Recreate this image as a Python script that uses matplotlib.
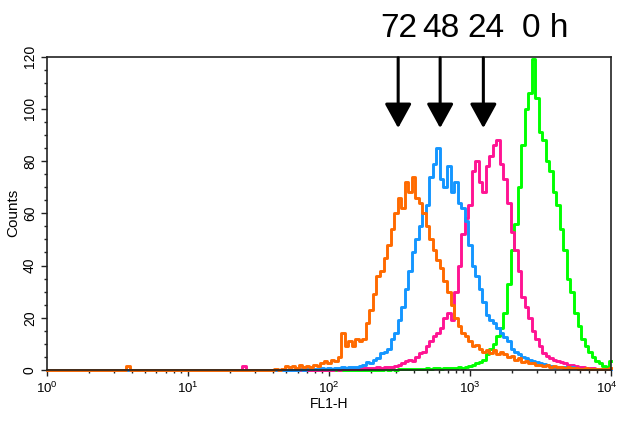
import numpy as np
import matplotlib.pyplot as plt
from matplotlib.transforms import blended_transform_factory, ScaledTranslation

plt.rcParams['font.family'] = ['Liberation Sans', 'DejaVu Sans']
plt.rcParams['mathtext.fontset'] = 'custom'
plt.rcParams['mathtext.rm'] = 'Liberation Sans'

# channel positions in decades, 0.025 decade bins from 10^0 to 10^4
decades = np.linspace(0, 4, 161)
fl1 = 10 ** decades

# counts below 10^1.5 (mostly empty, a couple of stray events)
orange_low = [0] * 23 + [1.5] + [0] * 36
pink_low = [0] * 56 + [1.5] + [0] * 3
blue_low = [0] * 60
green_low = [0] * 60

# counts from 10^1.5 to 10^4
orange_main = [0, 0, 0, 0, 0, 0.3, 0, 0.5, 1.5, 1,
               1.5, 0.8, 1.8, 1, 1.5, 1.2, 2, 1.5, 2.5, 3.5,
               2.5, 4, 3.5, 5, 14, 9, 11, 9, 12, 11,
               12, 18, 23, 29, 36, 38, 43, 48, 54, 60,
               66, 62, 72, 68, 74, 66, 64, 60, 55, 50,
               46, 42, 39, 34, 30, 25, 20, 17, 14, 13,
               11, 9, 9.5, 8, 7, 7.5, 6.5, 7.5, 6, 7,
               6, 5, 5.5, 4, 4.5, 3, 3.5, 2.5, 2.5, 2,
               2, 1.5, 2, 1.2, 1.5, 1, 1.2, 0.8, 1, 0.8,
               0.6, 0.5, 0.4, 0.6, 0.3, 0.5, 0.3, 0.4, 0.3, 0.4,
               0.8]
blue_main = [0, 0, 0, 0, 0, 0, 0, 0, 0, 0,
             0, 0, 0.3, 0, 0.5, 0.3, 0.5, 0.3, 0.6, 0.4,
             0.7, 0.5, 0.8, 0.6, 1, 0.8, 1, 1.3, 1, 1.5,
             2, 3, 2.5, 4, 4.5, 6.5, 7, 8, 12, 14,
             19, 24, 31, 38, 45, 50, 55, 60, 63, 74,
             79, 85, 73, 70, 78, 68, 72, 64, 62, 57,
             48, 40, 36, 31, 26, 21, 19, 18, 16, 14,
             12.5, 11, 8, 7, 6, 5, 4.5, 4, 3.5, 3,
             2.6, 2.2, 2, 1.5, 1.3, 1.2, 1, 1.3, 0.8, 1,
             0.6, 0.5, 0.4, 0.5, 0.3, 0.4, 0.3, 0.3, 0.2, 0.3,
             0.2]
pink_main = [0, 0, 0, 0, 0, 0, 0, 0, 0, 0,
             0, 0, 0, 0, 0, 0, 0, 0, 0, 0,
             0, 0, 0.3, 0, 0.4, 0.3, 0.5, 0.4, 0.6, 0.5,
             0.8, 0.6, 0.8, 0.7, 1, 0.8, 1, 1.3, 1, 1.5,
             2, 2.5, 3.5, 4, 3.5, 5, 6.5, 7, 9, 11,
             13, 14, 16, 20, 22, 19, 30, 40, 52, 58,
             63, 76, 80, 72, 68, 78, 82, 86, 88, 79,
             73, 64, 53, 46, 38, 28, 24, 20, 15, 12,
             9, 6.5, 5.5, 4.5, 4, 3.5, 3, 2.6, 2, 1.8,
             1.5, 1.2, 1, 0.8, 0.7, 0.6, 0.5, 0.4, 0.5, 0.3,
             0.3]
green_main = [0, 0, 0, 0, 0, 0, 0, 0, 0, 0,
              0, 0, 0, 0, 0, 0, 0, 0, 0, 0,
              0, 0, 0, 0, 0, 0, 0, 0, 0, 0,
              0, 0, 0, 0, 0, 0, 0.3, 0, 0.3, 0,
              0.3, 0.2, 0.4, 0.3, 0.5, 0.3, 0.5, 0.4, 0.6, 0.5,
              0.6, 0.8, 0.5, 0.8, 0.7, 0.9, 0.8, 1, 0.8, 1.2,
              1.5, 1.8, 2.5, 3, 4, 6, 8, 10, 13, 16,
              22, 33, 46, 56, 70, 86, 100, 106, 119, 104,
              91, 88, 80, 76, 68, 63, 54, 46, 35, 30,
              22, 17, 12, 9, 7, 5, 3.5, 2.5, 1.5, 1.3,
              3.5]

series = [
    ('0 h', green_low + green_main, '#00ff00'),
    ('24 h', pink_low + pink_main, '#ff1493'),
    ('48 h', blue_low + blue_main, '#1496ff'),
    ('72 h', orange_low + orange_main, '#ff6a00'),
]

# arrow / label positions along FL1-H
arrow_x = [310, 615, 1245]
labels = ['72', '48', '24', '0 h']
label_x = [315, 620, 1300, 3420]

fig = plt.figure(figsize=(6.19, 4.22), dpi=100)
ax = fig.add_axes([46.7 / 619, 1 - 370 / 422, (611 - 46.7) / 619, (370 - 56.5) / 422])

for name, counts, col in series:
    ax.plot(fl1, counts, drawstyle='steps-mid', color=col, lw=2.1, clip_on=False)

ax.set_xscale('log')
ax.set_xlim(1, 1e4)
ax.set_ylim(0, 120)
ax.set_yticks(np.arange(0, 121, 20))
ax.set_yticks(np.arange(0, 121, 5), minor=True)
ax.set_xticks([1, 10, 100, 1000, 10000])
ax.set_xticklabels([r'$\mathregular{10^{%d}}$' % i for i in range(5)], fontsize=9.5)
ax.tick_params(which='both', direction='out', width=1, color='#222222')
ax.tick_params(which='major', length=4.5)
ax.tick_params(which='minor', length=2.5)
ax.tick_params(axis='y', labelsize=10, pad=2.5)
ax.tick_params(axis='x', pad=3)
for lbl in ax.get_yticklabels():
    lbl.set_rotation(90)
    lbl.set_va('center')
# last decade label sits at the figure edge: nudge it inside
last = ax.get_xticklabels()[-1]
last.set_transform(last.get_transform() + ScaledTranslation(-4 / 100, 0, fig.dpi_scale_trans))
for sp in ax.spines.values():
    sp.set_linewidth(1.2)
    sp.set_color('#222222')

ax.set_ylabel('Counts', fontsize=11, labelpad=2)
ax.set_xlabel('FL1-H', fontsize=10, labelpad=1)

for x in arrow_x:
    ax.annotate('', xy=(x, 92.6), xytext=(x, 119.5),
                arrowprops=dict(arrowstyle='-|>,head_length=1.0,head_width=0.55',
                                mutation_scale=15, lw=2.2, color='black',
                                shrinkA=0, shrinkB=0))

tr = blended_transform_factory(ax.transData, fig.transFigure)
for txt, x in zip(labels, label_x):
    fig.text(x, 1 - 37 / 422, txt, transform=tr, ha='center', va='baseline', fontsize=24)

fig.savefig('out.png', dpi=100)
